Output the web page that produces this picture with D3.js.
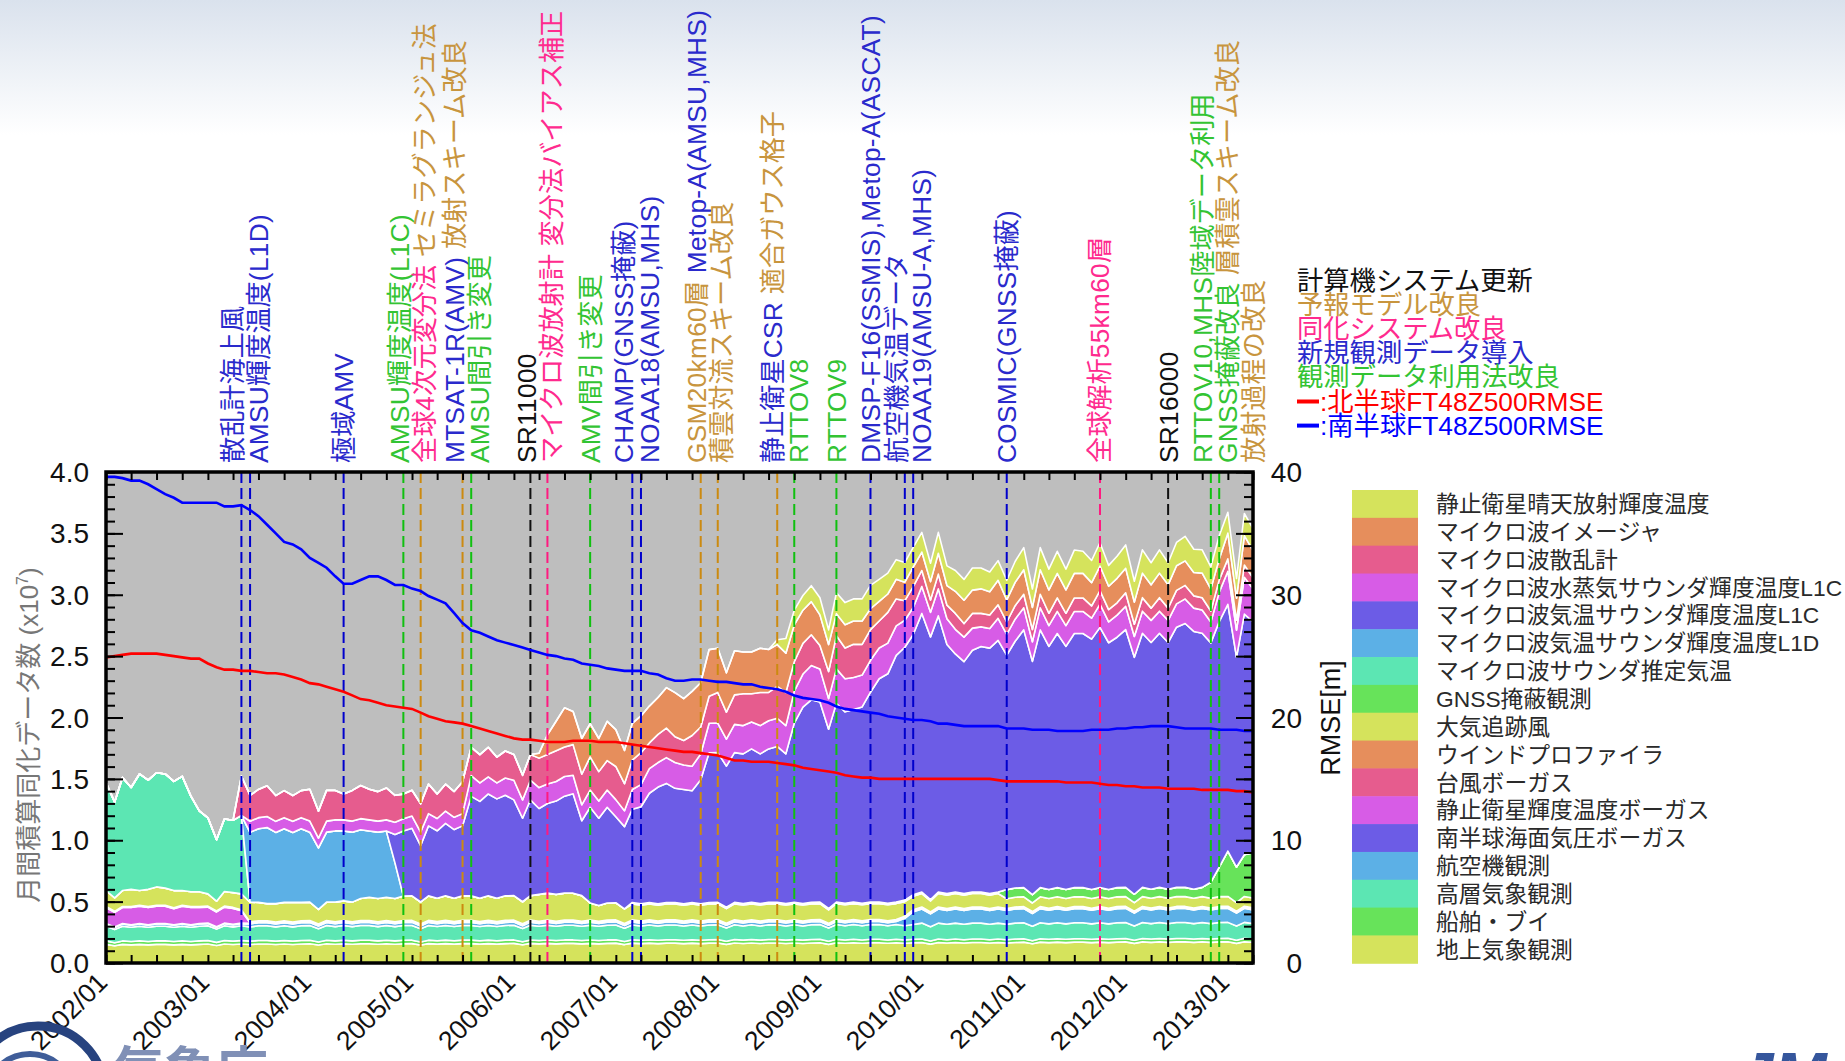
<!DOCTYPE html>
<html>
<head>
<meta charset="utf-8">
<script src="https://cdn.jsdelivr.net/npm/d3@7"></script>
<style>
  html, body { margin: 0; padding: 0; background: #fff; }
  svg { display: block; }
  text { font-family: "Liberation Sans", "Noto Sans CJK JP", sans-serif; }
</style>
</head>
<body>
<svg id="chart" width="1845" height="1061"></svg>
<script>
// ---------------------------------------------------------------
// Monthly assimilated observation counts (x10^7), stacked by type,
// with FT48 Z500 RMSE for both hemispheres (right axis, metres).
// Months: 2002/01 .. 2013/04
// ---------------------------------------------------------------
const months = d3.timeMonth.range(new Date(2002, 0, 1), new Date(2013, 4, 1));

// stacking order: bottom -> top
const layerNames = [
  "地上気象観測", "船舶・ブイ", "高層気象観測", "航空機観測",
  "南半球海面気圧ボーガス", "静止衛星輝度温度ボーガス", "台風ボーガス", "ウインドプロファイラ",
  "大気追跡風", "GNSS掩蔽観測", "マイクロ波サウンダ推定気温",
  "マイクロ波気温サウンダ輝度温度L1D", "マイクロ波気温サウンダ輝度温度L1C",
  "マイクロ波水蒸気サウンダ輝度温度L1C", "マイクロ波散乱計", "マイクロ波イメージャ",
  "静止衛星晴天放射輝度温度"
];

const Z12 = [0,0,0,0,0,0,0,0,0,0,0,0];

const surface = [
  [.152,.140,.152,.148,.152,.148,.152,.152,.148,.152,.148,.152],
  [.155,.143,.155,.151,.155,.151,.155,.155,.151,.155,.151,.155],
  [.157,.146,.157,.153,.157,.153,.157,.157,.153,.157,.153,.157],
  [.158,.146,.158,.154,.158,.154,.158,.158,.154,.158,.154,.158],
  [.160,.148,.160,.156,.160,.156,.160,.160,.156,.160,.156,.160],
  [.162,.150,.162,.158,.162,.158,.162,.162,.158,.162,.158,.162],
  [.163,.152,.163,.159,.163,.159,.163,.163,.159,.163,.159,.163],
  [.165,.152,.165,.161,.165,.161,.165,.165,.161,.165,.161,.165],
  [.167,.154,.167,.163,.167,.163,.167,.167,.163,.167,.163,.167],
  [.170,.157,.170,.166,.170,.166,.170,.170,.166,.170,.166,.170],
  [.172,.160,.172,.168,.172,.168,.172,.172,.168,.172,.168,.172],
  [.173,.160,.173,.169]
].flat();

const shipBuoy = [
  [.028,.025,.028,.027,.028,.027,.028,.028,.027,.028,.027,.028],
  [.028,.025,.028,.027,.028,.027,.028,.028,.027,.028,.027,.028],
  [.028,.025,.028,.027,.028,.027,.028,.028,.027,.028,.027,.028],
  [.028,.025,.028,.027,.028,.027,.028,.028,.027,.028,.027,.028],
  [.028,.025,.028,.027,.028,.027,.028,.028,.027,.028,.027,.028],
  [.028,.025,.028,.027,.028,.027,.028,.028,.027,.028,.027,.028],
  [.028,.025,.028,.027,.028,.027,.028,.028,.027,.028,.027,.028],
  [.028,.025,.028,.027,.028,.027,.028,.028,.027,.028,.027,.028],
  [.028,.025,.028,.027,.028,.027,.028,.028,.027,.028,.027,.028],
  [.028,.025,.028,.027,.028,.027,.028,.028,.027,.028,.027,.028],
  [.028,.025,.028,.027,.028,.027,.028,.028,.027,.028,.027,.028],
  [.028,.025,.028,.027]
].flat();

const upperAir = [
  [.120,.108,.120,.116,.120,.116,.120,.120,.116,.120,.116,.120],
  [.120,.108,.120,.116,.120,.116,.120,.120,.116,.120,.116,.120],
  [.120,.108,.120,.116,.120,.116,.120,.120,.116,.120,.116,.120],
  [.120,.108,.120,.116,.120,.116,.120,.120,.116,.120,.116,.120],
  [.120,.108,.120,.116,.120,.116,.120,.120,.116,.120,.116,.120],
  [.120,.108,.120,.116,.120,.116,.120,.120,.116,.120,.116,.120],
  [.120,.108,.120,.116,.120,.116,.120,.120,.116,.120,.116,.120],
  [.120,.108,.120,.116,.120,.116,.120,.120,.116,.120,.116,.120],
  [.130,.117,.130,.126,.130,.126,.130,.130,.126,.130,.126,.130],
  [.130,.117,.130,.126,.130,.126,.130,.130,.126,.130,.126,.130],
  [.130,.117,.130,.126,.130,.126,.130,.130,.126,.130,.126,.130],
  [.130,.117,.130,.126]
].flat();

const aircraft = [
  [.018,.016,.018,.017,.018,.017,.018,.018,.017,.018,.017,.018],
  [.018,.016,.018,.017,.018,.025,.025,.025,.024,.025,.024,.025],
  [.025,.022,.025,.024,.025,.024,.025,.025,.024,.025,.024,.025],
  [.025,.022,.025,.024,.025,.024,.025,.025,.024,.025,.024,.025],
  [.025,.022,.025,.024,.025,.024,.025,.025,.024,.025,.024,.025],
  [.025,.022,.025,.024,.025,.024,.025,.025,.024,.025,.024,.025],
  [.025,.022,.025,.024,.025,.024,.025,.025,.024,.025,.024,.025],
  [.025,.022,.025,.024,.025,.024,.025,.025,.024,.025,.060,.105],
  [.115,.104,.115,.111,.115,.111,.115,.115,.111,.115,.111,.115],
  [.115,.104,.115,.111,.115,.111,.115,.115,.111,.115,.111,.115],
  [.115,.104,.115,.111,.115,.111,.115,.115,.111,.115,.111,.115],
  [.115,.104,.115,.111]
].flat();

const shPsBogus = [
  [.004,.004,.004,.004,.004,.004,.004,.004,.004,.004,.004,.004],
  [.004,.004,.004,.004,.004,.004,.004,.004,.004,.004,.004,.004],
  [.004,.004,.004,.004,.004,.004,.004,.004,.004,.004,.004,.004],
  [.004,.004,.004,.004,.004,.004,.004,.004,.004,.004,.004,.004],
  [.004,.004,.004,.004,.004,.004,.004,.004,.004,.004,.004,.004],
  [.004,.004,.004,.004,.004,.004,.004,.004,.004,.004,.004,.004],
  [.004,.004,.004,.004,.004,.004,.004,.004,.004,.004,.004,.004],
  [.004,.004,.004,.004,.004,.004,.004,.004,.004,.004,.004,.004],
  [.004,.004,.004,.004,.004,.004,.004,.004,.004,.004,.004,.004],
  [.004,.004,.004,.004,.004,.004,.004,.004,.004,.004,.004,.004],
  [.004,.004,.004,.004,.004,.004,.004,.004,.004,.004,.004,.004],
  [.004,.004,.004,.004]
].flat();

const geoTbBogus = [
  [.13,.12,.13,.14,.14,.14,.14,.14,.13,.14,.14,.13],
  [.13,.12,.13,.13,.10,.004,.004,.004,.004,.004,.004,.004],
  [.004,.004,.004,.004,.004,.004,.004,.004,.004,.004,.004,.004],
  [.004,.004,.004,.004,.004,.004,.004,.004,.004,.004,.004,.004],
  [.004,.004,.004,.004,.004,.004,.004,.004,.004,.004,.004,.004],
  [.004,.004,.004,.004,.004,.004,.004,.004,.004,.004,.004,.004],
  [.004,.004,.004,.004,.004,.004,.004,.004,.004,.004,.004,.004],
  [.004,.004,.004,.004,.004,.004,.004,.004,.004,.004,.004,.004],
  [.004,.004,.004,.004,.004,.004,.004,.004,.004,.004,.004,.004],
  [.004,.004,.004,.004,.004,.004,.004,.004,.004,.004,.004,.004],
  [.004,.004,.004,.004,.004,.004,.004,.004,.004,.004,.004,.004],
  [.004,.004,.004,.004]
].flat();

const typhoonBogus = [
  [.004,.004,.004,.004,.004,.004,.004,.004,.004,.004,.004,.004],
  [.004,.004,.004,.004,.004,.004,.004,.004,.004,.004,.004,.004],
  [.004,.004,.004,.004,.004,.004,.004,.004,.004,.004,.004,.004],
  [.004,.004,.004,.004,.004,.004,.004,.004,.004,.004,.004,.004],
  [.004,.004,.004,.004,.004,.004,.004,.004,.004,.004,.004,.004],
  [.004,.004,.004,.004,.004,.004,.004,.004,.004,.004,.004,.004],
  [.004,.004,.004,.004,.004,.004,.004,.004,.004,.004,.004,.004],
  [.004,.004,.004,.004,.004,.004,.004,.004,.004,.004,.004,.004],
  [.004,.004,.004,.004,.004,.004,.004,.004,.004,.004,.004,.004],
  [.004,.004,.004,.004,.004,.004,.004,.004,.004,.004,.004,.004],
  [.004,.004,.004,.004,.004,.004,.004,.004,.004,.004,.004,.004],
  [.004,.004,.004,.004]
].flat();

const windProfiler = [
  [.004,.004,.004,.004,.004,.004,.004,.004,.004,.004,.004,.004],
  [.004,.004,.004,.004,.004,.004,.004,.004,.004,.004,.004,.004],
  [.004,.004,.004,.004,.004,.004,.004,.004,.004,.004,.004,.004],
  [.004,.004,.004,.004,.004,.004,.004,.004,.004,.004,.004,.004],
  [.004,.004,.004,.004,.004,.004,.004,.004,.004,.004,.004,.004],
  [.004,.004,.004,.004,.004,.004,.004,.004,.004,.004,.004,.004],
  [.004,.004,.004,.004,.004,.004,.004,.004,.004,.004,.004,.004],
  [.004,.004,.004,.004,.004,.004,.004,.004,.004,.004,.004,.004],
  [.004,.004,.004,.004,.004,.004,.004,.004,.004,.004,.004,.004],
  [.004,.004,.004,.004,.004,.004,.004,.004,.004,.004,.004,.004],
  [.004,.004,.004,.004,.004,.004,.004,.004,.004,.004,.004,.004],
  [.004,.004,.004,.004]
].flat();

const amv = [
  [.13,.11,.13,.14,.12,.14,.15,.14,.14,.12,.12,.12],
  [.10,.08,.12,.12,.13,.16,.15,.14,.15,.15,.16,.15],
  [.15,.12,.15,.16,.16,.16,.18,.19,.19,.19,.19,.20],
  [.20,.18,.20,.19,.20,.19,.20,.20,.19,.20,.19,.20],
  [.20,.18,.20,.22,.22,.22,.22,.22,.21,.14,.13,.14],
  [.14,.12,.13,.13,.13,.13,.13,.13,.13,.13,.13,.13],
  [.13,.12,.13,.13,.13,.13,.13,.13,.13,.13,.13,.13],
  [.13,.11,.13,.13,.13,.13,.13,.13,.13,.13,.12,.11],
  [.11,.09,.11,.11,.11,.11,.11,.11,.11,.11,.08,.08],
  [.08,.07,.08,.08,.08,.08,.08,.08,.08,.08,.08,.08],
  [.08,.07,.08,.08,.08,.08,.08,.08,.08,.08,.08,.08],
  [.08,.07,.08,.08]
].flat();

const gnssRo = [
  Z12, Z12, Z12, Z12, Z12,
  [0,0,.012,.012,.012,.012,.012,.012,.012,.012,.012,.012],
  [.012,.011,.012,.012,.012,.012,.012,.012,.012,.012,.012,.012],
  [.012,.011,.012,.012,.012,.012,.012,.012,.012,.012,.012,.012],
  [.012,.011,.012,.012,.012,.012,.012,.012,.012,.012,.075,.075],
  [.075,.068,.075,.073,.075,.073,.075,.075,.073,.075,.073,.075],
  [.075,.068,.075,.073,.075,.073,.075,.075,.073,.075,.130,.240],
  [.370,.290,.340,.370]
].flat();

const mwRetrievedTemp = [
  [.88,.78,.92,.83,.95,.89,.93,.93,.89,.93,.78,.66],
  [.62,.50,.59,.59,.64,0,0,0,0,0,0,0],
  Z12, Z12, Z12, Z12, Z12, Z12, Z12, Z12, Z12,
  [0,0,0,0]
].flat();

const mwTempL1D = [
  Z12,
  [0,0,0,0,0,.57,.60,.62,.58,.60,.57,.60],
  [.57,.50,.57,.58,.57,.57,.56,.54,.54,.54,.29,0],
  Z12, Z12, Z12, Z12, Z12, Z12, Z12, Z12,
  [0,0,0,0]
].flat();

const mwTempL1C = [
  Z12, Z12,
  [0,0,0,0,0,0,0,0,0,0,.23,.53],
  [.55,.46,.57,.55,.59,.56,.57,.81,.79,.83,.81,.82],
  [.78,.68,.78,.70,.73,.76,.79,.81,.61,.78,.71,.78],
  [.70,.67,.76,.79,.89,.95,.97,.93,.93,.91,1.01,1.22],
  [1.22,1.15,1.22,1.22,1.25,1.22,1.25,1.27,1.22,1.46,1.60,1.65],
  [1.63,1.46,1.62,1.56,1.57,1.60,1.71,1.82,1.87,2.01,2.06,2.12],
  [2.27,2.14,2.25,2.03,1.94,1.89,1.97,2.00,2.00,2.05,1.91,2.01],
  [2.10,1.90,2.10,1.98,2.07,1.98,2.07,2.07,2.04,2.12,2.01,2.04],
  [2.10,1.93,2.07,2.01,2.07,2.01,2.12,2.15,2.10,2.07,1.95,2.00],
  [2.01,1.71,1.96,1.88]
].flat();

const mwHumL1C = [
  Z12,
  [0,0,0,0,0,.09,.09,.09,.09,.09,.09,.09],
  [.09,.08,.09,.09,.09,.09,.09,.09,.09,.09,.10,.10],
  [.10,.11,.10,.10,.10,.10,.10,.17,.15,.14,.13,.14],
  [.16,.15,.16,.17,.16,.16,.16,.15,.13,.14,.14,.14],
  [.14,.13,.16,.18,.20,.20,.21,.21,.20,.20,.21,.24],
  [.24,.22,.23,.23,.22,.23,.23,.23,.23,.26,.27,.28],
  [.27,.25,.28,.27,.26,.26,.26,.25,.25,.24,.22,.22],
  [.22,.20,.22,.21,.20,.20,.18,.16,.16,.18,.17,.18],
  [.18,.16,.18,.17,.18,.17,.18,.18,.17,.19,.17,.18],
  [.19,.17,.18,.18,.18,.18,.19,.20,.19,.19,.17,.24],
  [.27,.22,.30,.27]
].flat();

const mwScatterometer = [
  Z12,
  [0,0,0,0,.32,.21,.23,.25,.21,.22,.21,.22],
  [.26,.22,.25,.24,.21,.25,.27,.25,.24,.26,.22,.20],
  [.21,.23,.24,.20,.22,.21,.26,.23,.23,.24,.21,.22],
  [.21,.20,.21,.24,.24,.25,.24,.25,.25,.27,.24,.24],
  [.27,.22,.24,.26,.21,.23,.24,.21,.20,.25,.22,.22],
  [.25,.22,.24,.26,.23,.27,.23,.26,.27,.24,.25,.25],
  [.19,.22,.27,.25,.27,.25,.25,.22,.25,.22,.16,.17],
  [.13,.10,.12,.11,.13,.11,.12,.11,.11,.11,.10,.11],
  [.11,.10,.11,.10,.11,.10,.11,.11,.10,.11,.10,.10],
  [.11,.10,.11,.10,.11,.10,.11,.11,.10,.10,.09,.10],
  [.10,.08,.10,.09]
].flat();

const mwImager = [
  Z12, Z12, Z12, Z12,
  [0,0,0,.04,.16,.24,.32,.27,.29,.27,.27,.32],
  [.30,.27,.30,.30,.30,.30,.33,.36,.34,.36,.36,.38],
  [.36,.32,.36,.34,.34,.36,.35,.34,.32,.30,.27,.27],
  [.25,.22,.18,.19,.19,.19,.17,.16,.15,.16,.15,.16],
  [.15,.15,.17,.16,.18,.19,.19,.20,.19,.20,.18,.19],
  [.20,.18,.20,.19,.20,.19,.20,.20,.19,.20,.19,.20],
  [.20,.18,.20,.19,.20,.19,.20,.20,.19,.20,.18,.17],
  [.21,.18,.24,.22]
].flat();

const geoCsr = [
  Z12, Z12, Z12, Z12, Z12, Z12,
  [0,0,0,0,0,0,0,.04,.12,.12,.12,.13],
  [.14,.12,.17,.18,.18,.18,.19,.18,.17,.16,.16,.16],
  [.16,.15,.17,.16,.17,.17,.18,.17,.16,.16,.16,.17],
  [.18,.15,.18,.17,.18,.17,.19,.18,.18,.19,.17,.18],
  [.19,.17,.19,.18,.19,.18,.19,.20,.19,.19,.18,.19],
  [.17,.16,.18,.18]
].flat();

const layerValues = [
  surface, shipBuoy, upperAir, aircraft, shPsBogus, geoTbBogus, typhoonBogus,
  windProfiler, amv, gnssRo, mwRetrievedTemp, mwTempL1D, mwTempL1C,
  mwHumL1C, mwScatterometer, mwImager, geoCsr
];

// FT48 Z500 RMSE [m]
const rmseNH = [
  [24.9,25.0,25.1,25.2,25.2,25.2,25.2,25.1,25.0,24.9,24.8,24.8],
  [24.4,24.1,23.9,23.9,23.8,23.8,23.7,23.6,23.6,23.5,23.3,23.1],
  [22.8,22.7,22.5,22.3,22.1,21.8,21.5,21.4,21.2,21.0,20.9,20.8],
  [20.7,20.4,20.1,19.9,19.7,19.6,19.5,19.3,19.1,18.9,18.7,18.5],
  [18.3,18.2,18.2,18.1,18.0,18.0,18.0,18.1,18.1,18.1,18.0,18.0],
  [18.0,17.9,17.8,17.7,17.6,17.5,17.4,17.3,17.2,17.2,17.1,17.0],
  [16.9,16.7,16.5,16.5,16.4,16.4,16.4,16.3,16.2,16.1,15.9,15.8],
  [15.7,15.6,15.5,15.3,15.2,15.1,15.1,15.0,15.0,15.0,15.0,15.0],
  [15.0,15.0,15.0,15.0,15.0,15.0,15.0,15.0,15.0,14.9,14.8,14.8],
  [14.8,14.8,14.8,14.8,14.8,14.7,14.7,14.7,14.7,14.6,14.5,14.5],
  [14.4,14.4,14.3,14.3,14.3,14.2,14.2,14.2,14.2,14.1,14.1,14.1],
  [14.1,14.0,14.0,13.9]
].flat();

const rmseSH = [
  [39.6,39.6,39.5,39.3,39.3,39.0,38.6,38.2,37.9,37.5,37.5,37.5],
  [37.5,37.5,37.2,37.2,37.3,36.9,36.4,35.7,35.0,34.3,34.1,33.7],
  [33.0,32.6,32.2,31.5,30.9,30.9,31.2,31.5,31.5,31.2,30.8,30.8],
  [30.5,30.3,29.9,29.6,29.3,28.5,27.7,27.1,26.9,26.6,26.3,26.1],
  [25.9,25.7,25.5,25.3,25.1,25.0,24.8,24.7,24.4,24.3,24.2,24.0],
  [23.9,23.8,23.8,23.8,23.6,23.5,23.2,23.0,23.0,23.1,23.1,23.0],
  [22.9,22.9,22.8,22.7,22.7,22.5,22.4,22.3,22.1,21.8,21.6,21.5],
  [21.4,21.2,20.9,20.7,20.6,20.5,20.4,20.3,20.1,20.0,19.9,19.8],
  [19.8,19.7,19.5,19.5,19.4,19.3,19.3,19.3,19.3,19.3,19.1,19.1],
  [19.1,19.0,19.0,19.0,18.9,18.9,18.9,18.9,19.0,19.0,19.0,19.1],
  [19.1,19.2,19.2,19.3,19.3,19.3,19.2,19.1,19.1,19.1,19.1,19.0],
  [19.0,19.0,18.9,18.9]
].flat();

// system change events: one label column each, coloured segments by category
const eventKinds = ["sys", "model", "assim", "obs", "use"];
const eventKindLabels = ["計算機システム更新", "予報モデル改良", "同化システム改良", "新規観測データ導入", "観測データ利用法改良"];
const events = [
  { date: "2003-05", line: "obs",   segs: [["散乱計海上風", "obs"]] },
  { date: "2003-06", line: "obs",   segs: [["AMSU輝度温度(L1D)", "obs"]] },
  { date: "2004-05", line: "obs",   segs: [["極域AMV", "obs"]] },
  { date: "2004-12", line: "use",   segs: [["AMSU輝度温度(L1C)", "use"]] },
  { date: "2005-02", line: "model", segs: [["全球4次元変分法", "assim"], [" セミラグランジュ法", "model"]] },
  { date: "2005-07", line: "model", segs: [["MTSAT-1R(AMV)", "obs"], [" 放射スキーム改良", "model"]] },
  { date: "2005-08", line: "use",   segs: [["AMSU間引き変更", "use"]] },
  { date: "2006-03", line: "sys",   segs: [["SR11000", "sys"]] },
  { date: "2006-05", line: "assim", segs: [["マイクロ波放射計 変分法バイアス補正", "assim"]] },
  { date: "2006-10", line: "use",   segs: [["AMV間引き変更", "use"]] },
  { date: "2007-03", line: "obs",   segs: [["CHAMP(GNSS掩蔽)", "obs"]] },
  { date: "2007-04", line: "obs",   segs: [["NOAA18(AMSU,MHS)", "obs"]] },
  { date: "2007-11", line: "model", segs: [["GSM20km60層", "model"], [" Metop-A(AMSU,MHS)", "obs"]] },
  { date: "2008-01", line: "model", segs: [["積雲対流スキーム改良", "model"]] },
  { date: "2008-08", line: "model", segs: [["静止衛星CSR", "obs"], [" 適合ガウス格子", "model"]] },
  { date: "2008-10", line: "use",   segs: [["RTTOV8", "use"]] },
  { date: "2009-03", line: "use",   segs: [["RTTOV9", "use"]] },
  { date: "2009-07", line: "obs",   segs: [["DMSP-F16(SSMIS),Metop-A(ASCAT)", "obs"]] },
  { date: "2009-11", line: "obs",   segs: [["航空機気温データ", "obs"]] },
  { date: "2009-12", line: "obs",   segs: [["NOAA19(AMSU-A,MHS)", "obs"]] },
  { date: "2010-11", line: "obs",   segs: [["COSMIC(GNSS掩蔽)", "obs"]] },
  { date: "2011-10", line: "assim", segs: [["全球解析55km60層", "assim"]] },
  { date: "2012-06", line: "sys",   segs: [["SR16000", "sys"]] },
  { date: "2012-11", line: "use",   segs: [["RTTOV10,MHS陸域データ利用", "use"]] },
  { date: "2012-12", line: "use",   segs: [["GNSS掩蔽改良", "use"], [" 層積雲スキーム改良", "model"]] },
  { date: "2013-04", line: "model", segs: [["放射過程の改良", "model"]] }
];

const leftTicks = [0, 0.5, 1.0, 1.5, 2.0, 2.5, 3.0, 3.5, 4.0];
const rightTicks = [0, 10, 20, 30, 40];

// ---------------------------------------------------------------
// styles
// ---------------------------------------------------------------
const palette = ["#d5e35c", "#67e35a", "#5ce6b3", "#5cb0e6", "#6c5ce6", "#d75ce6", "#e65c8e", "#e68e5c"];
const kindText = { sys: "#111111", model: "#c8953e", assim: "#ff2a8e", obs: "#2a2acc", use: "#33c433" };
const kindLine = { sys: "#111111", model: "#cc8a10", assim: "#ff1a80", obs: "#0000cc", use: "#10c010" };

const W = 1845, H = 1061;
const P = { l: 106, r: 1253, t: 472, b: 963 };

const svg = d3.select("#chart");
const defs = svg.append("defs");

// slide banner at the top
const grad = defs.append("linearGradient").attr("id", "banner")
  .attr("x1", 0).attr("y1", 0).attr("x2", 0).attr("y2", 1);
grad.append("stop").attr("offset", "0%").attr("stop-color", "#dae2ed");
grad.append("stop").attr("offset", "100%").attr("stop-color", "#ffffff");
svg.append("rect").attr("width", W).attr("height", 135).attr("fill", "url(#banner)");

defs.append("clipPath").attr("id", "plotClip").append("rect")
  .attr("x", P.l).attr("y", P.t).attr("width", P.r - P.l).attr("height", P.b - P.t);

// scales
const x = d3.scaleTime().domain([new Date(2002, 0, 1), new Date(2013, 3, 1)]).range([P.l, P.r]);
const y = d3.scaleLinear().domain([0, 4]).range([P.b, P.t]);
const yR = d3.scaleLinear().domain([0, 40]).range([P.b, P.t]);
const parseMonth = d3.timeParse("%Y-%m");

// plot background
svg.append("rect").attr("x", P.l).attr("y", P.t).attr("width", P.r - P.l).attr("height", P.b - P.t)
  .attr("fill", "#bebebe");

// stacked areas
const rows = months.map((m, i) => {
  const r = { date: m };
  layerNames.forEach((k, j) => { r[k] = layerValues[j][i]; });
  return r;
});
const stacked = d3.stack().keys(layerNames)(rows);
const area = d3.area()
  .x(d => x(d.data.date))
  .y0(d => y(d[0]))
  .y1(d => y(d[1]));

const gPlot = svg.append("g").attr("clip-path", "url(#plotClip)");
gPlot.selectAll("path.layer").data(stacked).join("path")
  .attr("class", "layer")
  .attr("d", area)
  .attr("fill", (d, i) => palette[i % palette.length])
  .attr("stroke", "#ffffff")
  .attr("stroke-width", 1.6)
  .attr("stroke-linejoin", "round");

// event lines
gPlot.selectAll("line.evt").data(events).join("line")
  .attr("class", "evt")
  .attr("x1", d => x(parseMonth(d.date))).attr("x2", d => x(parseMonth(d.date)))
  .attr("y1", P.t).attr("y2", P.b)
  .attr("stroke", d => kindLine[d.line])
  .attr("stroke-width", 2)
  .attr("stroke-dasharray", "11,5");

// RMSE lines
const rLine = src => d3.line().x((d, i) => x(months[i])).y(d => yR(d))(src);
gPlot.append("path").attr("d", rLine(rmseNH)).attr("fill", "none").attr("stroke", "#ff0000").attr("stroke-width", 2.6);
gPlot.append("path").attr("d", rLine(rmseSH)).attr("fill", "none").attr("stroke", "#0000ff").attr("stroke-width", 2.6);

// axes (ticks drawn inward)
const quarter = d3.timeMonth.every(3);
const axG = svg.append("g").attr("class", "axes");
axG.append("g").attr("transform", `translate(0,${P.b})`)
  .call(d3.axisBottom(x).ticks(quarter).tickSize(-8).tickFormat(""));
axG.append("g").attr("transform", `translate(0,${P.t})`)
  .call(d3.axisTop(x).ticks(quarter).tickSize(-8).tickFormat(""));
axG.append("g").attr("transform", `translate(${P.l},0)`)
  .call(d3.axisLeft(y).tickValues(d3.range(0, 41).map(v => v / 10)).tickSize(-9).tickFormat(""));
axG.append("g").attr("transform", `translate(${P.l},0)`)
  .call(d3.axisLeft(y).tickValues(leftTicks).tickSize(-17).tickFormat(""));
axG.append("g").attr("transform", `translate(${P.r},0)`)
  .call(d3.axisRight(yR).tickValues(d3.range(0, 41)).tickSize(-9).tickFormat(""));
axG.append("g").attr("transform", `translate(${P.r},0)`)
  .call(d3.axisRight(yR).tickValues(d3.range(0, 41, 5)).tickSize(-17).tickFormat(""));
axG.selectAll(".domain").remove();
axG.selectAll(".tick line").attr("stroke", "#000").attr("stroke-width", 2);

// frame
svg.append("rect").attr("x", P.l).attr("y", P.t).attr("width", P.r - P.l).attr("height", P.b - P.t)
  .attr("fill", "none").attr("stroke", "#000").attr("stroke-width", 3.5);

// left tick labels
svg.append("g").selectAll("text").data(leftTicks).join("text")
  .attr("x", P.l - 17).attr("y", d => y(d)).attr("dy", "0.36em")
  .attr("text-anchor", "end").attr("font-size", 28).attr("fill", "#111")
  .text(d => d3.format(".1f")(d));

// right tick labels
svg.append("g").selectAll("text").data(rightTicks).join("text")
  .attr("x", 1302).attr("y", d => yR(d)).attr("dy", "0.36em")
  .attr("text-anchor", "end").attr("font-size", 28).attr("fill", "#111")
  .text(d => d);

// bottom date labels
const years = d3.timeYear.range(new Date(2002, 0, 1), new Date(2013, 1, 1));
svg.append("g").selectAll("text").data(years).join("text")
  .attr("transform", d => `translate(${x(d) + 3},${P.b + 21}) rotate(-45)`)
  .attr("text-anchor", "end").attr("font-size", 26.5).attr("fill", "#111")
  .text(d3.timeFormat("%Y/%m"));

// axis titles
const lt = svg.append("text")
  .attr("transform", `translate(38,735) rotate(-90)`)
  .attr("text-anchor", "middle").attr("font-size", 26).attr("fill", "#777");
lt.append("tspan").text("月間積算同化データ数 (x10");
lt.append("tspan").attr("font-size", 16).attr("dy", -10).text("7");
lt.append("tspan").attr("dy", 10).text(")");

svg.append("text")
  .attr("transform", `translate(1340,718) rotate(-90)`)
  .attr("text-anchor", "middle").attr("font-size", 27).attr("fill", "#111")
  .text("RMSE[m]");

// event label columns: spread to avoid overlap, clusters centred on their events
function spreadColumns(xs, gap) {
  let clusters = xs.map((v, i) => ({ idx: [i], mean: v }));
  let merged = true;
  while (merged) {
    merged = false;
    for (let i = 0; i < clusters.length - 1; i++) {
      const a = clusters[i], b = clusters[i + 1];
      const aEnd = a.mean + gap * (a.idx.length - 1) / 2;
      const bStart = b.mean - gap * (b.idx.length - 1) / 2;
      if (bStart - aEnd < gap - 0.01) {
        const idx = a.idx.concat(b.idx);
        clusters.splice(i, 2, { idx, mean: d3.mean(idx, j => xs[j]) });
        merged = true;
        break;
      }
    }
  }
  const out = new Array(xs.length);
  clusters.forEach(c => c.idx.forEach((j, k) => { out[j] = c.mean + gap * (k - (c.idx.length - 1) / 2); }));
  return out;
}
const evX = events.map(e => x(parseMonth(e.date)));
const colX = spreadColumns(evX, 25.5);

// Latin runs are set slightly looser than the kana/kanji runs
function appendRuns(textSel, str, fill) {
  str.split(/([\x20-\x7E]+)/).filter(s => s.length).forEach(run => {
    const latin = /^[\x20-\x7E]+$/.test(run);
    textSel.append("tspan").attr("fill", fill)
      .attr("letter-spacing", latin ? 0.35 : 0)
      .text(run);
  });
}

const labG = svg.append("g");
events.forEach((e, i) => {
  const t = labG.append("text")
    .attr("transform", `translate(${colX[i] + 9.5},${P.t - 9}) rotate(-90)`)
    .attr("font-size", 26.2)
    .style("white-space", "pre");
  e.segs.forEach(s => appendRuns(t, s[0], kindText[s[1]]));
});

// legend of event categories and RMSE lines
const lg = svg.append("g").attr("transform", "translate(1297,0)");
eventKinds.forEach((k, i) => {
  lg.append("text").attr("x", 0).attr("y", 290 + i * 24.1)
    .attr("font-size", 26.3).attr("fill", kindText[k]).text(eventKindLabels[i]);
});
[["北半球FT48Z500RMSE", "#ff0000"], ["南半球FT48Z500RMSE", "#0000ff"]].forEach((r, i) => {
  const yy = 290 + (5 + i) * 24.1;
  lg.append("rect").attr("x", 0).attr("y", yy - 11).attr("width", 22).attr("height", 4).attr("fill", r[1]);
  lg.append("text").attr("x", 23).attr("y", yy).attr("font-size", 26.3).attr("fill", r[1]).text(":" + r[0]);
});

// colour key of observation types (top entry = top of the stack)
const keyG = svg.append("g");
const rowH = 27.84;
const keyOrder = layerNames.map((n, i) => ({ n, i })).reverse();
keyG.selectAll("rect").data(keyOrder).join("rect")
  .attr("x", 1352).attr("y", (d, k) => 490 + k * rowH)
  .attr("width", 66).attr("height", rowH + 0.5)
  .attr("fill", d => palette[d.i % palette.length]);
keyG.selectAll("text").data(keyOrder).join("text")
  .attr("x", 1436).attr("y", (d, k) => 490 + k * rowH + rowH / 2)
  .attr("dy", "0.36em").attr("font-size", 22.8).attr("fill", "#2a2a2a")
  .text(d => d.n);

// slide footer marks
const logo = svg.append("g");
logo.append("circle").attr("cx", 38).attr("cy", 1092).attr("r", 66)
  .attr("fill", "none").attr("stroke", "#27437f").attr("stroke-width", 9);
logo.append("circle").attr("cx", 30).attr("cy", 1098).attr("r", 44)
  .attr("fill", "none").attr("stroke", "#3f5d99").attr("stroke-width", 6);
logo.append("text").attr("x", 112).attr("y", 1090).attr("font-size", 52).attr("font-weight", "bold")
  .attr("fill", "#8090b6").text("気象庁");
svg.append("text").attr("x", 1738).attr("y", 1098).attr("font-size", 64).attr("font-weight", "bold")
  .attr("font-style", "italic").attr("fill", "#35569c").text("JMA");
</script>
</body>
</html>
